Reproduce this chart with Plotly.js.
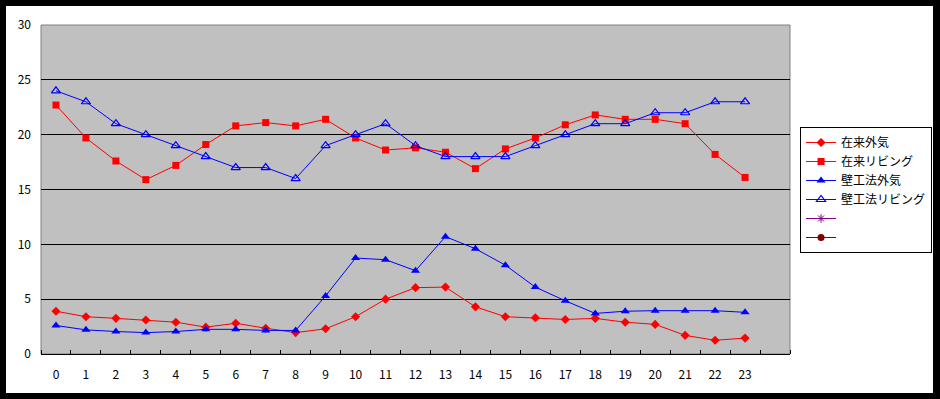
<!DOCTYPE html>
<html>
<head>
<meta charset="utf-8">
<script src="https://cdn.plot.ly/plotly-3.0.1.min.js"></script>
<style>
html,body{margin:0;padding:0;background:#000;width:940px;height:399px;overflow:hidden;}
#chart{position:absolute;left:6px;top:6px;width:927px;height:387px;background:#fff;}
</style>
</head>
<body>
<div id="chart"></div>
<script>
const hours = [0,1,2,3,4,5,6,7,8,9,10,11,12,13,14,15,16,17,18,19,20,21,22,23];
const hourLabels = hours.map(String);
const seriesNames = ['在来外気','在来リビング','壁工法外気','壁工法リビング',' ','  '];
const zairaiOutside = [3.9,3.4,3.25,3.1,2.9,2.45,2.8,2.35,1.95,2.3,3.4,5.0,6.05,6.1,4.3,3.4,3.3,3.15,3.25,2.9,2.7,1.7,1.25,1.45];
const zairaiLiving  = [22.7,19.7,17.6,15.9,17.2,19.1,20.8,21.1,20.8,21.4,19.7,18.6,18.8,18.4,16.9,18.7,19.7,20.9,21.8,21.4,21.4,21.0,18.2,16.1];
const kabeOutside   = [2.6,2.2,2.05,1.95,2.05,2.25,2.25,2.15,2.15,5.3,8.75,8.6,7.6,10.7,9.6,8.1,6.1,4.85,3.7,3.9,3.95,3.95,3.95,3.8];
const kabeLiving    = [24,23,21,20,19,18,17,17,16,19,20,21,19,18,18,18,19,20,21,21,22,22,23,23];
const emptySeries   = hours.map(() => null);
const yTicks = [0,5,10,15,20,25,30];
const xBoundaries = [-0.5,0.5,1.5,2.5,3.5,4.5,5.5,6.5,7.5,8.5,9.5,10.5,11.5,12.5,13.5,14.5,15.5,16.5,17.5,18.5,19.5,20.5,21.5,22.5,23.5,24.5];

const font = {family: '"Noto Sans CJK JP", "Liberation Sans", sans-serif', size: 12, color: '#000'};

const traces = [
  {x: hours, y: zairaiOutside, name: seriesNames[0], mode: 'lines+markers',
   line: {color: '#FF0000', width: 1}, marker: {symbol: 'diamond', size: 7, color: '#FF0000'}},
  {x: hours, y: zairaiLiving, name: seriesNames[1], mode: 'lines+markers',
   line: {color: '#FF0000', width: 1}, marker: {symbol: 'square', size: 7, color: '#FF0000'}},
  {x: hours, y: kabeOutside, name: seriesNames[2], mode: 'lines+markers',
   line: {color: '#0000FF', width: 1}, marker: {symbol: 'triangle-up', size: 8, color: '#0000FF'}},
  {x: hours, y: kabeLiving, name: seriesNames[3], mode: 'lines+markers',
   line: {color: '#0000FF', width: 1}, marker: {symbol: 'triangle-up-open', size: 8, color: '#0000FF', line: {width: 1.2}}},
  {x: hours, y: emptySeries, name: seriesNames[4], mode: 'lines+markers',
   line: {color: '#800080', width: 1}, marker: {symbol: 'asterisk-open', size: 7, color: '#800080', line: {width: 1, color: '#800080'}}},
  {x: hours, y: emptySeries, name: seriesNames[5], mode: 'lines+markers',
   line: {color: '#800000', width: 1}, marker: {symbol: 'circle', size: 7, color: '#800000'}}
];

const layout = {
  width: 927, height: 387,
  margin: {l: 35, r: 143, t: 19, b: 39, autoexpand: false},
  paper_bgcolor: '#FFFFFF',
  plot_bgcolor: '#C0C0C0',
  font: font,
  showlegend: true,
  legend: {
    x: 1.0134, xanchor: 'left', y: 0.69, yanchor: 'top',
    bgcolor: '#FFFFFF', bordercolor: '#000000', borderwidth: 1,
    font: {family: font.family, size: 12, color: '#000'},
    itemwidth: 30, tracegroupgap: 0
  },
  xaxis: {
    range: [-0.5, 24.5],
    tickmode: 'array', tickvals: hours, ticktext: hourLabels,
    ticks: '', showgrid: false, zeroline: false,
    showline: true, linecolor: '#000000', linewidth: 1,
    ticklabelstandoff: 10,
    minor: {tickmode: 'array', tickvals: xBoundaries, ticks: 'inside', ticklen: 4, tickcolor: '#000000', tickwidth: 1, showgrid: false},
    fixedrange: true
  },
  yaxis: {
    range: [0, 30],
    tickmode: 'array', tickvals: yTicks,
    ticks: '', showgrid: true, gridcolor: '#000000', gridwidth: 1,
    zeroline: false, showline: false,
    ticklabelstandoff: 9,
    fixedrange: true
  },
  shapes: [
    {type: 'rect', xref: 'paper', yref: 'paper', x0: 0, x1: 1, y0: 0, y1: 1,
     line: {color: '#808080', width: 1}, fillcolor: 'rgba(0,0,0,0)', layer: 'below'}
  ]
};

Plotly.newPlot('chart', traces, layout, {staticPlot: true, displayModeBar: false});
</script>
</body>
</html>
